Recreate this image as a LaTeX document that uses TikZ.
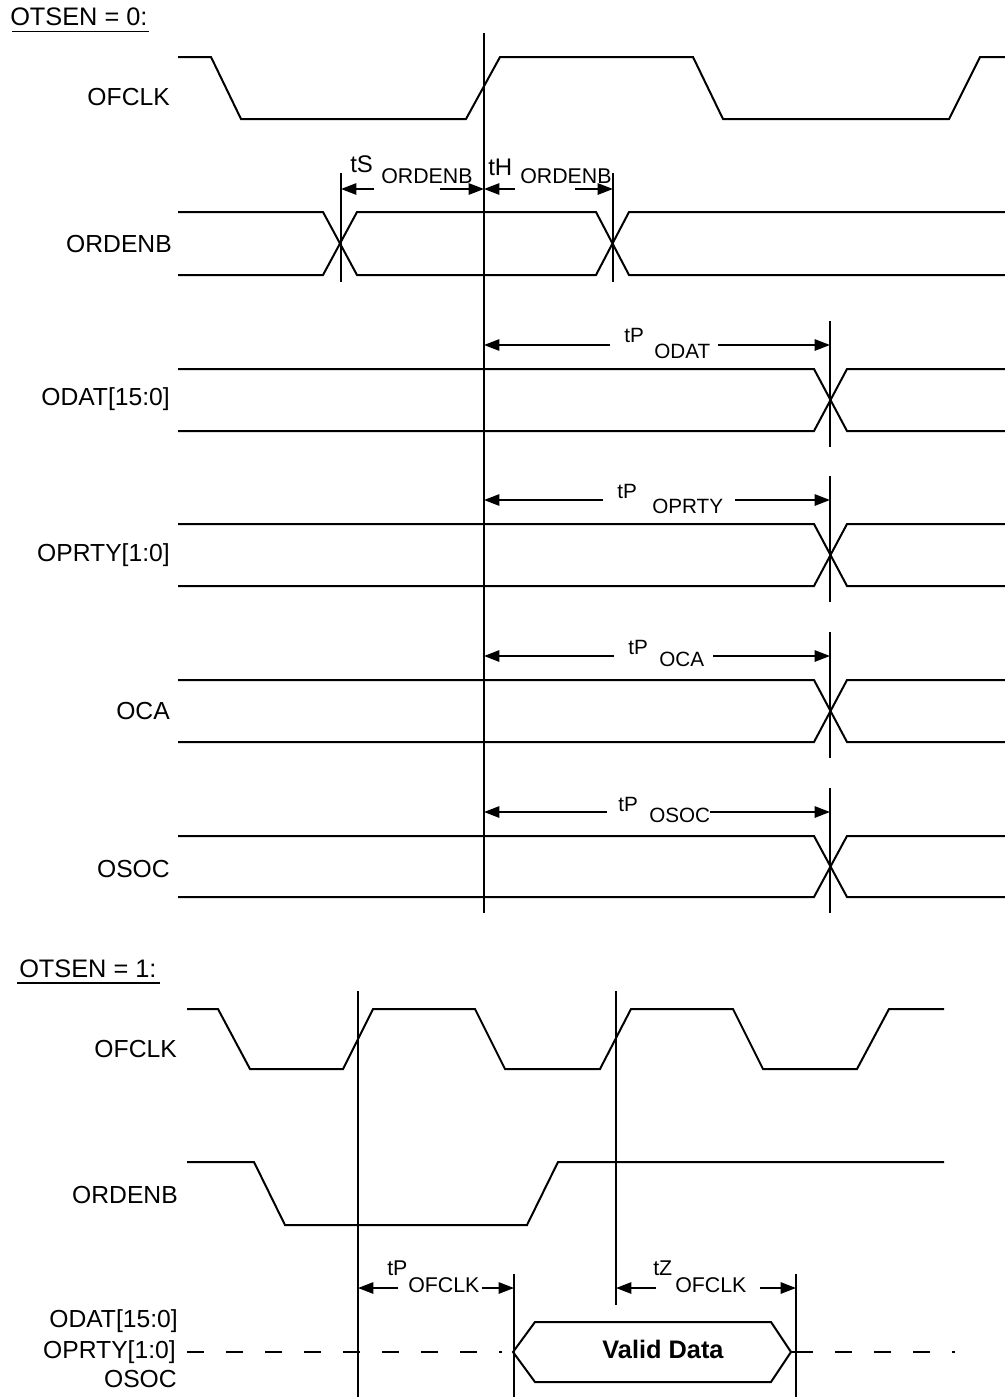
\documentclass[tikz,border=0pt]{standalone}
\usepackage{fontspec}
\setmainfont{Liberation Sans}
\usetikzlibrary{arrows.meta,calc}
\begin{document}
\begin{tikzpicture}[x=0.75pt,y=-0.75pt,
  sig/.style={line width=1.5pt, line join=miter},
  vline/.style={line width=1.5pt},
  dimarrow/.style={line width=1.3pt,-{Triangle[length=11.5pt,width=8.5pt]}},
  lab/.style={inner sep=0pt, anchor=base east, font=\fontsize{18.5}{20}\selectfont},
  head/.style={inner sep=0pt, anchor=base west, font=\fontsize{19}{21}\selectfont},
  tbig/.style={inner sep=0pt, anchor=base west, font=\fontsize{18}{20}\selectfont},
  tsub/.style={inner sep=0pt, anchor=base west, font=\fontsize{16}{18}\selectfont},
  tsm/.style={inner sep=0pt, anchor=base west, font=\fontsize{15.5}{17}\selectfont},
  dashline/.style={line width=1.5pt, dash pattern=on 12.75pt off 16.5pt},
]
\useasboundingbox (0,0) rectangle (1005,1397);

% ================= OTSEN = 0 =================
\node[head] (h0) at (10,25) {OTSEN = 0:};
\draw[line width=1.4pt] (12,31.5) -- (149,31.5);

% main reference edge
\draw[vline] (484,33) -- (484,913);

% OFCLK
\node[lab] (l1) at (170,105) {OFCLK};
\draw[sig] (178,57) -- (211,57) -- (241,119) -- (466,119) -- (500,57) -- (693,57)
  -- (723,119) -- (949,119) -- (980,57) -- (1005,57);

% ORDENB
\node[lab] (l2) at (172,252) {ORDENB};
\draw[sig] (178,212) -- (323,212) -- (357,275) -- (596,275) -- (629,212) -- (1005,212);
\draw[sig] (178,275) -- (323,275) -- (357,212) -- (596,212) -- (629,275) -- (1005,275);
\draw[vline] (341,173) -- (341,282);
\draw[vline] (613,173) -- (613,282);
\node[tbig] (ts) at (350,172) {tS};
\node[tsub] (tss) at (381,183) {ORDENB};
\node[tbig] (th) at (488,175) {tH};
\node[tsub] (ths) at (520,183.5) {ORDENB};
\draw[dimarrow] (374,189) -- (341,189);
\draw[dimarrow] (440,189) -- (484,189);
\draw[dimarrow] (515,189) -- (484,189);
\draw[dimarrow] (575,189) -- (613,189);

% bus signals
\foreach \hi/\lo/\name/\lbase in {369/431/{ODAT[15:0]}/405, 524/586/{OPRTY[1:0]}/561, 680/742/{OCA}/719, 836/897/{OSOC}/877}{
  \draw[sig] (178,\hi) -- (814,\hi) -- (847,\lo) -- (1005,\lo);
  \draw[sig] (178,\lo) -- (814,\lo) -- (847,\hi) -- (1005,\hi);
  \draw[vline] (830,\hi-48) -- (830,\lo+16);
  \node[lab] at (170,\lbase) {\name};
}

% tP labels
\node[tsm] (p1) at (624,342) {tP};
\node[tsm] (p1s) at (654,358) {ODAT};
\draw[dimarrow] (610,345) -- (484,345);
\draw[dimarrow] (718,345) -- (830,345);

\node[tsm] (p2) at (617,498) {tP};
\node[tsm] (p2s) at (652,513) {OPRTY};
\draw[dimarrow] (603,500) -- (484,500);
\draw[dimarrow] (735,500) -- (830,500);

\node[tsm] (p3) at (628,654) {tP};
\node[tsm] (p3s) at (659,666) {OCA};
\draw[dimarrow] (614,656) -- (484,656);
\draw[dimarrow] (713,656) -- (830,656);

\node[tsm] (p4) at (618,811) {tP};
\node[tsm] (p4s) at (649,822) {OSOC};
\draw[dimarrow] (607,812) -- (484,812);
\draw[dimarrow] (710,812) -- (830,812);

% ================= OTSEN = 1 =================
\node[head] (h1) at (19,977) {OTSEN = 1:};
\draw[line width=1.4pt] (17,983) -- (160,983);

\draw[vline] (358,991) -- (358,1397);
\draw[vline] (616,991) -- (616,1305);
\draw[vline] (514,1274) -- (514,1397);
\draw[vline] (796,1274) -- (796,1397);

% OFCLK
\node[lab] (b1) at (177,1057) {OFCLK};
\draw[sig] (187,1009) -- (218,1009) -- (250,1069) -- (343,1069) -- (373,1009) -- (475,1009)
  -- (505,1069) -- (600,1069) -- (631,1009) -- (733,1009) -- (763,1069) -- (857,1069)
  -- (889,1009) -- (944,1009);

% ORDENB
\node[lab] (b2) at (178,1203) {ORDENB};
\draw[sig] (187,1162) -- (254,1162) -- (285,1225) -- (527,1225) -- (558,1162) -- (944,1162);

% tP / tZ OFCLK
\node[tsub] (q1) at (387,1275) {tP};
\node[tsub] (q1s) at (408,1292) {OFCLK};
\draw[dimarrow] (398,1288) -- (358,1288);
\draw[dimarrow] (482,1288) -- (514,1288);
\node[tsub] (q2) at (653,1275) {tZ};
\node[tsub] (q2s) at (675,1292) {OFCLK};
\draw[dimarrow] (656,1288) -- (616,1288);
\draw[dimarrow] (760,1288) -- (796,1288);

% data bus
\node[lab] (b3) at (178,1327) {ODAT[15:0]};
\node[lab] (b4) at (176,1358) {OPRTY[1:0]};
\node[lab] (b5) at (177,1387) {OSOC};
\draw[dashline] (187,1352) -- (502,1352);
\draw[sig] (513,1352) -- (535,1322) -- (771,1322) -- (791,1352) -- (771,1382) -- (535,1382) -- cycle;
\node[inner sep=0pt, font=\bfseries\fontsize{19}{21}\selectfont] (vd) at (663,1349) {Valid Data};
\draw[sig] (791,1352) -- (796,1352);
\draw[dashline] (796,1352) -- (955,1352);
\end{tikzpicture}
\end{document}
